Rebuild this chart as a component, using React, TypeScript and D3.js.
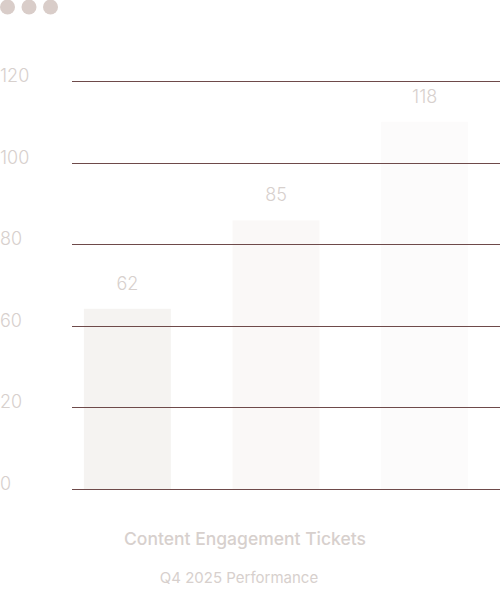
import React from "react";
import * as d3 from "d3";

const categories = ["A", "B", "C"];
const values = [62, 85, 118];
const barLevels = [53, 79, 108];
const tickLabels = [0, 20, 60, 80, 100, 120];
const barFills = ["#f5f3f1", "#faf8f7", "#fcfbfb"];
const dots = [0, 1, 2];

const W = 500;
const H = 592;

export default function App() {
  const x = d3.scaleBand<string>().domain(categories).range([72, 480]).paddingInner(0.415).paddingOuter(0.08);
  const y = d3.scaleLinear().domain([0, 120]).range([489, 81]);
  const g = d3.scalePoint<number>().domain(tickLabels).range([489, 81]);
  const dotX = d3.scaleLinear().domain([0, 2]).range([7.5, 50.5]);
  const font = "Inter, 'Noto Sans', sans-serif";
  const txt = "#d7d0cd";
  return (
    <svg width={W} height={H} style={{ position: "absolute", left: 0, top: 0, background: "#fff" }} fontFamily={font}>
      {dots.map((d) => (
        <circle key={d} cx={dotX(d)} cy={7} r={7.5} fill="#d9cdc9" />
      ))}
      {categories.map((c, i) => (
        <rect key={c} x={x(c)} y={y(barLevels[i])} width={x.bandwidth()} height={y(0) - y(barLevels[i])} fill={barFills[i]} />
      ))}
      {tickLabels.map((t) => (
        <g key={t}>
          <line x1={72} x2={500} y1={Math.round(g(t)!) + 0.5} y2={Math.round(g(t)!) + 0.5} stroke="#6e4a4a" strokeWidth={1.1} />
          <text x={0} y={g(t)! + 1} fontSize={18} fontWeight={300} fill={txt}>{t}</text>
        </g>
      ))}
      {categories.map((c, i) => (
        <text key={c} x={x(c)! + x.bandwidth() / 2} y={y(barLevels[i]) - 19} textAnchor="middle" fontSize={18} fontWeight={300} fill={txt}>
          {values[i]}
        </text>
      ))}
      <text x={245} y={545} textAnchor="middle" fontSize={17.5} fontWeight={500} fill={txt}>Content Engagement Tickets</text>
      <text x={239} y={583} textAnchor="middle" fontSize={15} fontWeight={400} fill={txt}>Q4 2025 Performance</text>
    </svg>
  );
}
